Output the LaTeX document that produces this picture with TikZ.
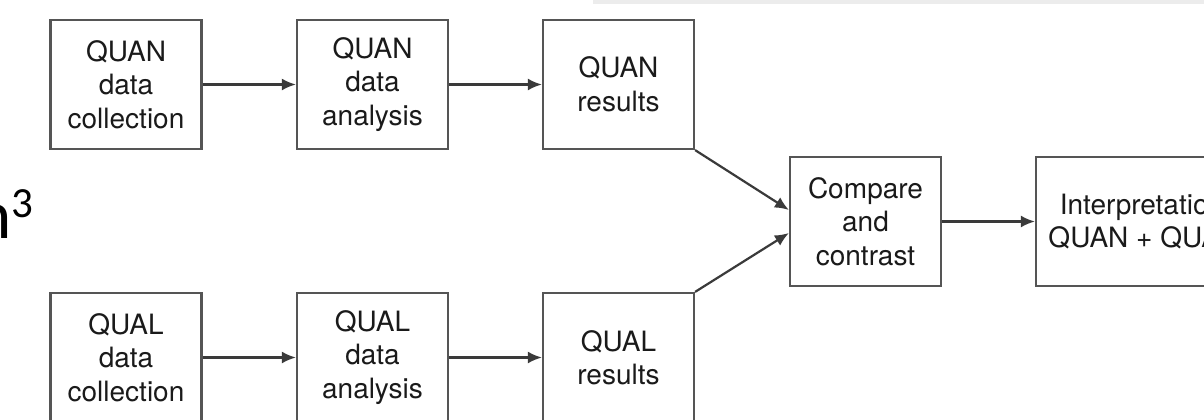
\documentclass[tikz,border=0pt]{standalone}
\usepackage{fontspec}
\setmainfont{TeX Gyre Heros}
\newfontfamily\calibrifont{Carlito}
\usetikzlibrary{arrows.meta}
\definecolor{boxline}{HTML}{555555}
\definecolor{arrowline}{HTML}{3A3A3A}
\definecolor{txt}{HTML}{1A1A1A}
\definecolor{barcol}{HTML}{ECECEC}
\begin{document}
\begin{tikzpicture}[x=1pt,y=-1pt,
  flowbox/.style={draw=boxline, line width=2.2pt, minimum width=151pt, minimum height=129pt,
    inner sep=0pt, align=center, text=txt, font=\fontsize{28}{33.5}\selectfont},
  flowarrow/.style={draw=arrowline, line width=2.2pt, -{Latex[length=14pt,width=12pt]}}]
\useasboundingbox (0,0) rectangle (1204,420);
\clip (0,0) rectangle (1204,420);
\fill[white] (0,0) rectangle (1204,420);
\fill[barcol] (593,0) rectangle (1204,4);
% top row
\node[flowbox] (qn1) at (126,84.5) {QUAN\\data\\collection};
\node[flowbox] (qn2) at (372.5,84.5) {QUAN\\data\\analysis};
\node[flowbox] (qn3) at (618.5,84.5) {QUAN\\results};
% bottom row
\node[flowbox] (ql1) at (126,357.5) {QUAL\\data\\collection};
\node[flowbox] (ql2) at (372.5,357.5) {QUAL\\data\\analysis};
\node[flowbox] (ql3) at (618.5,357.5) {QUAL\\results};
% merge
\node[flowbox] (cmp) at (865.5,221.5) {Compare\\and\\contrast};
\node[flowbox, minimum width=212pt] (interp) at (1142,221.5) {Interpretation\\QUAN + QUAL};
% stray label at left
\node[anchor=base west, inner sep=0pt, text=black, font=\calibrifont\fontsize{69}{80}\selectfont] (nlabel) at (-25,238) {n\raisebox{21pt}{\fontsize{43}{43}\selectfont 3}};
% connectors
\draw[flowarrow] (qn1) -- (qn2);
\draw[flowarrow] (qn2) -- (qn3);
\draw[flowarrow] (ql1) -- (ql2);
\draw[flowarrow] (ql2) -- (ql3);
\draw[flowarrow] (qn3.south east) -- ([yshift=11.5pt]cmp.west);
\draw[flowarrow] (ql3.north east) -- ([yshift=-11.5pt]cmp.west);
\draw[flowarrow] (cmp) -- (interp);
\end{tikzpicture}
\end{document}
